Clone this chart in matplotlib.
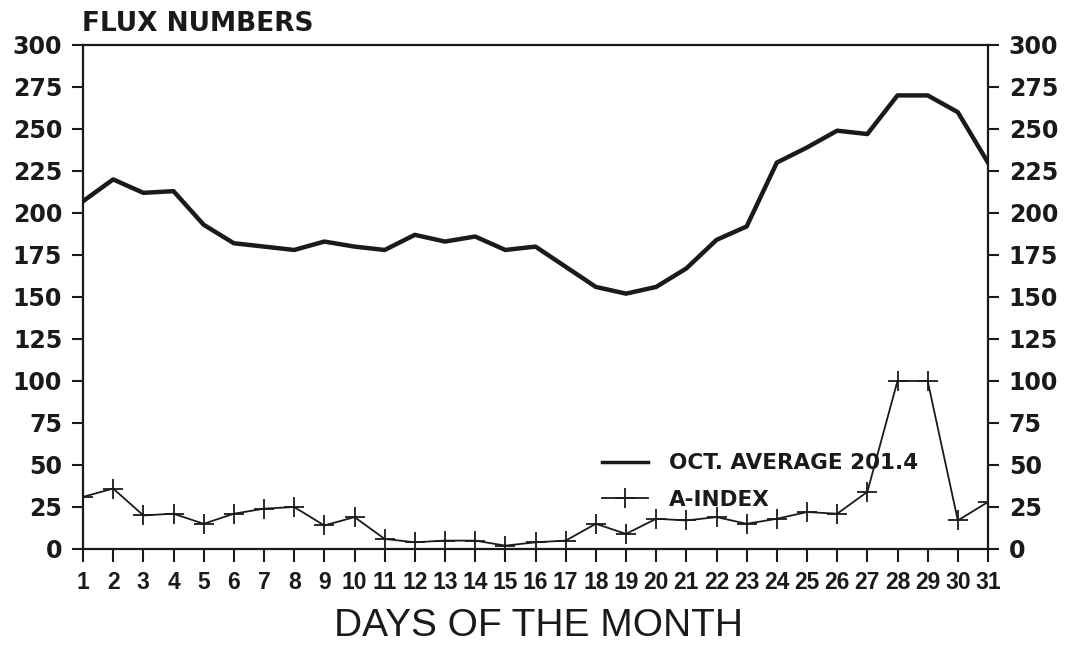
import matplotlib.pyplot as plt
from matplotlib.lines import Line2D

# days of october
days = list(range(1, 32))

# solar flux numbers
flux = [207, 220, 212, 213, 193, 182, 180, 178, 183, 180,
        178, 187, 183, 186, 178, 180, 168, 156, 152, 156,
        167, 184, 192, 230, 239, 249, 247, 270, 270, 260, 230]

# A-index values
a_index = [31, 36, 20, 21, 15, 21, 24, 25, 14, 19,
           6, 4, 5, 5, 2, 4, 5, 15, 9, 18,
           17, 19, 15, 18, 22, 21, 34, 100, 100, 17, 28]

y_ticks = list(range(0, 301, 25))

fig = plt.figure(figsize=(10.65, 6.45), dpi=100)
ax = fig.add_axes([83 / 1065, 96 / 645, 905 / 1065, 504 / 645])

ax.plot(days, flux, color='#1a1a1a', lw=3.2, solid_joinstyle='round')
ax.plot(days, a_index, color='#1a1a1a', lw=1.3, marker='+',
        markersize=15, markeredgewidth=1.3)

ax.set_xlim(1, 31)
ax.set_ylim(0, 300)
ax.set_xticks(days)
ax.set_yticks(y_ticks)

for s in ax.spines.values():
    s.set_linewidth(1.6)
    s.set_color('#1a1a1a')

ax.tick_params(axis='y', which='both', direction='out', length=8, width=1.5,
               left=True, right=True, labelleft=True, labelright=True, pad=7,
               colors='#1a1a1a')
ax.tick_params(axis='x', direction='out', length=9, width=1.5, pad=7,
               colors='#1a1a1a')

for lab in ax.get_yticklabels():
    lab.set_fontfamily('DejaVu Sans')
    lab.set_fontweight('bold')
    lab.set_fontsize(17)
for lab in ax.get_xticklabels():
    lab.set_fontfamily('Liberation Sans')
    lab.set_fontweight('bold')
    lab.set_fontsize(16.5)

fig.text(82 / 1065, 1 - 31 / 645, 'FLUX NUMBERS', fontsize=19,
         fontweight='bold', family='DejaVu Sans', va='baseline', color='#1a1a1a')
fig.text(538 / 1065, 1 - 636 / 645, 'DAYS OF THE MONTH', fontsize=28,
         family='Liberation Sans', ha='center', va='baseline', color='#1a1a1a')

handles = [Line2D([], [], color='#1a1a1a', lw=2.5),
           Line2D([], [], color='#1a1a1a', lw=1.3, marker='+',
                  markersize=15, markeredgewidth=1.3)]
leg = ax.legend(handles, ['OCT. AVERAGE 201.4', 'A-INDEX'],
                loc='upper left', bbox_to_anchor=(583 / 1065, 1 - 434 / 645),
                bbox_transform=fig.transFigure, frameon=False,
                handlelength=2.1, handletextpad=1.0, labelspacing=0.75,
                prop={'family': 'DejaVu Sans', 'weight': 'bold', 'size': 15.5})
for t in leg.get_texts():
    t.set_color('#1a1a1a')

fig.savefig('out.png', dpi=100)
